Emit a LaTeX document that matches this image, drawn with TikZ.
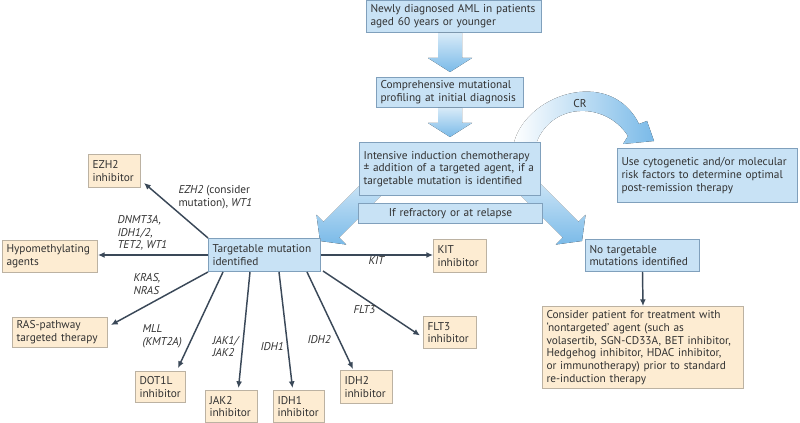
\documentclass[tikz,border=0pt]{standalone}
\usepackage{fontspec}
\setmainfont{PT Sans}
\usetikzlibrary{arrows.meta,calc}

\definecolor{bluefill}{RGB}{200,226,245}
\definecolor{bluedraw}{RGB}{128,160,188}
\definecolor{tanfill}{RGB}{253,236,210}
\definecolor{tandraw}{RGB}{188,178,162}
\definecolor{linkcol}{RGB}{58,72,88}
\definecolor{arrowblue}{RGB}{122,186,232}
\definecolor{textcol}{RGB}{50,50,50}

\newcommand\boxfont{\fontsize{8.5}{9.5}\selectfont}
% block arrow between two stacked boxes
\newcommand\flowdown[2]{%
	\path (#1.south -| #2.north) coordinate (fdtop);
	\fill[flowarrow] ($(fdtop)+(-12,0)$) -- ($(#2.north)+(-12,-19)$) -- ($(#2.north)+(-22,-19)$) -- ($(#2.north)+(0,-5)$) -- ($(#2.north)+(22,-19)$) -- ($(#2.north)+(12,-19)$) -- ($(fdtop)+(12,0)$) -- cycle;}

\tikzset{every picture/.style={line width=0.75pt}}
\tikzset{
	bluebox/.style={draw=bluedraw, fill=bluefill, anchor=north west, align=left, inner xsep=3pt, inner ysep=1pt, font=\boxfont, text=textcol},
	tanbox/.style={draw=tandraw, fill=tanfill, anchor=north west, align=left, inner xsep=3pt, inner ysep=1pt, font=\boxfont, text=textcol},
	link/.style={draw=linkcol, line width=1.1pt, -{Latex[length=5pt,width=4.5pt]}},
	genelabel/.style={anchor=west, align=left, inner sep=0pt, font=\boxfont\itshape, text=textcol},
	flowarrow/.style={top color=arrowblue!30, bottom color=arrowblue},
	crarrow/.style={left color=white, right color=arrowblue}}

\begin{document}
\begin{tikzpicture}[x=0.75pt,y=0.75pt,yscale=-1,xscale=1]
	\path[use as bounding box] (0,0) rectangle (800,423);

	%Shape: CR arrow
	\fill[crarrow] (513,147) .. controls (522,95) and (610,65) .. (639,124) -- (647,121) -- (654,141) -- (623,144) -- (628,136) .. controls (605,100) and (548,102) .. (535,147) -- cycle;
	%Shape: arrow to targetable mutation
	\fill[flowarrow] (387.78,188.78) -- (339.09,237.47) -- (346.16,244.54) -- (320,241) -- (316.46,214.84) -- (323.53,221.91) -- (372.22,173.22) -- cycle;
	%Shape: arrow to no targetable mutation
	\fill[flowarrow] (514.22,188.78) -- (562.91,237.47) -- (555.84,244.54) -- (582,241) -- (585.54,214.84) -- (578.47,221.91) -- (529.78,173.22) -- cycle;

	% Blue boxes
	\node[bluebox, text width=125.25pt, minimum height=24pt] (aml) at (366,0) {Newly diagnosed AML in patients\\aged 60 years or younger};
	\node[bluebox, text width=104.25pt, minimum height=22.5pt] (prof) at (376,77) {Comprehensive mutational\\profiling at initial diagnosis};
	\node[bluebox, text width=129.75pt, minimum height=39.75pt] (ind) at (359,142) {Intensive induction chemotherapy\\± addition of a targeted agent, if a\\targetable mutation is identified};
	\node[bluebox, text width=132pt, minimum height=15pt, align=center] (refr) at (358,203) {If refractory or at relapse};
	\node[bluebox, text width=129pt, minimum height=40.5pt] (cyto) at (617,148) {Use cytogenetic and/or molecular\\risk factors to determine optimal\\post-remission therapy};
	\node[bluebox, text width=78pt, minimum height=24.75pt] (tm) at (208,238) {Targetable mutation\\identified};
	\node[bluebox, text width=79.5pt, minimum height=24pt] (nt) at (585,239) {No targetable\\mutations identified};

	% Tan boxes
	\node[tanbox, text width=33pt, minimum height=24.75pt] (ezh) at (88,154) {EZH2\\inhibitor};
	\node[tanbox, text width=65.25pt, minimum height=24pt] (hypo) at (2,240) {Hypomethylating\\agents};
	\node[tanbox, text width=65.25pt, minimum height=22.5pt] (ras) at (12,317) {RAS-pathway\\targeted therapy};
	\node[tanbox, text width=31.5pt, minimum height=23.25pt] (dot) at (135,371) {DOT1L\\inhibitor};
	\node[tanbox, text width=33pt, minimum height=24pt] (jak) at (205,390) {JAK2\\inhibitor};
	\node[tanbox, text width=32.25pt, minimum height=24pt] (idhone) at (273,390) {IDH1\\inhibitor};
	\node[tanbox, text width=33pt, minimum height=24.75pt] (idhtwo) at (340,370) {IDH2\\inhibitor};
	\node[tanbox, text width=33.75pt, minimum height=24pt] (flt) at (423,316) {FLT3\\inhibitor};
	\node[tanbox, text width=33.75pt, minimum height=24.75pt] (kit) at (433,239) {KIT\\inhibitor};
	\node[tanbox, text width=144.75pt, minimum height=61.5pt] (cons) at (542,306) {Consider patient for treatment with\\`nontargeted' agent (such as\\volasertib, SGN-CD33A, BET inhibitor,\\Hedgehog inhibitor, HDAC inhibitor,\\or immunotherapy) prior to standard\\re-induction therapy};

	% Block arrows
	\flowdown{aml}{prof}
	\flowdown{prof}{ind}

	% Links
	\draw[link] (tm.north west) -- ($(ezh.south east)+(3,-5)$);
	\draw[link] (tm.west) -- (tm.west -| hypo.east);
	\draw[link] (tm.south west) -- ($(ras.north east)+(3,8)$);
	\draw[link] ($(tm.south west)+(15,0)$) -- ($(dot.north east)+(-8,-3)$);
	\draw[link] ($(tm.south west)+(42,0)$) -- ($(jak.north)+(7,-2)$);
	\draw[link] ($(tm.south west)+(71,0)$) -- ($(idhone.north)+(-6.5,-2)$);
	\draw[link] ($(tm.south west)+(99,0)$) -- ($(idhtwo.north west)+(13,-1)$);
	\draw[link] ($(tm.south east)+(2,-1)$) -- ($(flt.west)+(-3,3)$);
	\draw[link] (tm.east) -- (tm.east -| kit.west);
	\draw[link] (nt.south) -- (cons.north);

	% Text Node
	\node[genelabel] (lbezh) at (178,197.5) {EZH2 \textup{(consider}\\\textup{mutation),} WT1};
	% Text Node
	\node[genelabel] (lbdnmt) at (117,233) {DNMT3A,\\IDH1/2,\\TET2, WT1};
	% Text Node
	\node[genelabel] (lbras) at (133,284) {KRAS,\\NRAS};
	% Text Node
	\node[genelabel] (lbmll) at (142,336.5) {MLL\\(KMT2A)};
	% Text Node
	\node[genelabel] (lbjak) at (212,346.5) {JAK1/\\JAK2};
	% Text Node
	\node[genelabel] (lbidhone) at (260,347) {IDH1};
	% Text Node
	\node[genelabel] (lbidhtwo) at (307,340) {IDH2};
	% Text Node
	\node[genelabel] (lbflt) at (353,310) {FLT3};
	% Text Node
	\node[genelabel] (lbkit) at (368,261) {KIT};
	% Text Node
	\node[font=\boxfont, text=textcol] (lbcr) at (580,104) {CR};

\end{tikzpicture}
\end{document}
